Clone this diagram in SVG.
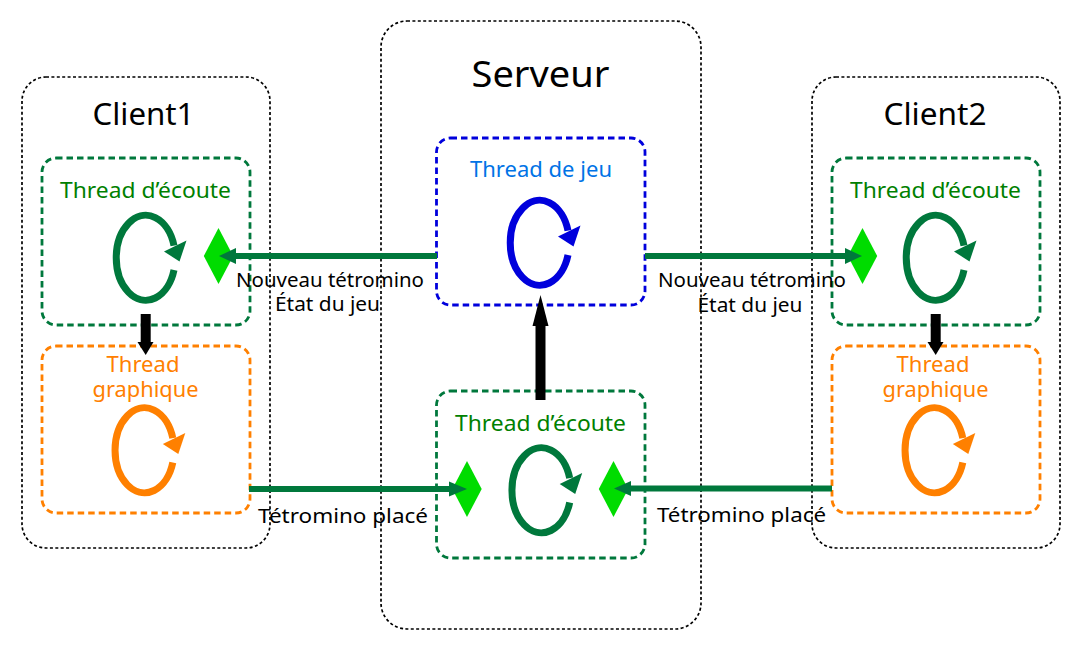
<svg xmlns="http://www.w3.org/2000/svg" width="1083" height="657" viewBox="0 0 1083 657">
<style>
text{font-family:"Noto Sans","Open Sans","DejaVu Sans",sans-serif;text-anchor:middle}
.outer{fill:none;stroke:#000;stroke-width:1.7;stroke-dasharray:3 2.4}
.box{fill:none;stroke-width:2.8;stroke-dasharray:6.500 4}
.title{font-size:31px;fill:#000}
.th{font-size:21px}
.lb{font-size:20px;fill:#000}
.g{stroke:#00783c;fill:#00783c}
.gt{fill:#008000}
.o{stroke:#ff8000;fill:#ff8000}
.ot{fill:#ff8000}
.b{stroke:#0000dc;fill:#0000dc}
.bt{fill:#0073e6}
.d{fill:#00dc00}
.conn{stroke:#00783c;stroke-width:6;fill:none}
.head{fill:#00783c}
</style>
<defs>
<g id="cycle">
<path d="M28 11 A29.5 42.5 0 1 1 28 -13.4" fill="none" stroke-width="7"/>
<path d="M40.500 -18.500 L18 -7.500 L33.500 2.500 Z" stroke="none"/>
</g>
<polygon id="dia" points="-14.7,0 0,-28 14.7,0 0,28"/>
</defs>

<g id="client1">
<rect class="outer" x="22" y="77" width="248" height="471" rx="24"/>
<text class="title" x="143.500" y="125" textLength="102" lengthAdjust="spacingAndGlyphs">Client1</text>
</g>
<g id="serveur">
<rect class="outer" x="381" y="21" width="320" height="608" rx="26"/>
<text class="title" x="540.500" y="87" style="font-size:37px" textLength="138" lengthAdjust="spacingAndGlyphs">Serveur</text>
</g>
<g id="client2">
<rect class="outer" x="812" y="77" width="248" height="471" rx="24"/>
<text class="title" x="935" y="125" textLength="103" lengthAdjust="spacingAndGlyphs">Client2</text>
</g>

<g id="c1-ecoute">
<rect class="box" x="42" y="158" width="208" height="167" rx="14" stroke="#00783c"/>
<text class="th gt" x="145.500" y="198" textLength="171" lengthAdjust="spacingAndGlyphs">Thread d’écoute</text>
<use href="#cycle" x="146" y="259" class="g"/>
<use href="#dia" x="218.500" y="256" class="d"/>
</g>
<g id="c1-graphique">
<rect class="box" x="42" y="346" width="208" height="167" rx="14" stroke="#ff8000"/>
<text class="th ot" x="143" y="372" textLength="73" lengthAdjust="spacingAndGlyphs">Thread</text>
<text class="th ot" x="145.500" y="397" textLength="106" lengthAdjust="spacingAndGlyphs">graphique</text>
<use href="#cycle" x="144.800" y="451.500" class="o"/>
</g>
<g id="jeu">
<rect class="box" x="436.500" y="138" width="208.500" height="167" rx="14" stroke="#0000dc"/>
<text class="th bt" x="541" y="177" textLength="142" lengthAdjust="spacingAndGlyphs">Thread de jeu</text>
<use href="#cycle" x="540" y="244" class="b"/>
</g>
<g id="s-ecoute">
<rect class="box" x="436.500" y="391" width="208.500" height="167" rx="14" stroke="#00783c"/>
<text class="th gt" x="540.500" y="431" textLength="171" lengthAdjust="spacingAndGlyphs">Thread d’écoute</text>
<use href="#cycle" x="541.700" y="491.500" class="g"/>
<use href="#dia" x="467" y="489" class="d"/>
<use href="#dia" x="613.500" y="489" class="d"/>
</g>
<g id="c2-ecoute">
<rect class="box" x="832" y="158" width="208" height="167" rx="14" stroke="#00783c"/>
<text class="th gt" x="935.500" y="198" textLength="171" lengthAdjust="spacingAndGlyphs">Thread d’écoute</text>
<use href="#cycle" x="936" y="259" class="g"/>
<use href="#dia" x="862.500" y="256" class="d"/>
</g>
<g id="c2-graphique">
<rect class="box" x="832" y="346" width="208" height="167" rx="14" stroke="#ff8000"/>
<text class="th ot" x="933" y="372" textLength="73" lengthAdjust="spacingAndGlyphs">Thread</text>
<text class="th ot" x="935.500" y="397" textLength="106" lengthAdjust="spacingAndGlyphs">graphique</text>
<use href="#cycle" x="934.800" y="451.500" class="o"/>
</g>

<g id="connectors">
<path class="conn" d="M437 256H232"/>
<polygon class="head" points="219,256 236,248 236,264"/>
<path class="conn" d="M645 256H850"/>
<polygon class="head" points="862,256 845,248 845,264"/>
<path class="conn" d="M249 489H455"/>
<polygon class="head" points="467,489 449,481.500 449,496.500"/>
<path class="conn" d="M832 488.500H626"/>
<polygon class="head" points="614,488.500 631,481 631,496"/>
<path d="M145.700 314V343" stroke="#000" stroke-width="10" fill="none"/>
<polygon points="145.700,355 137.500,342 153.500,342" fill="#000"/>
<path d="M935.700 314V343" stroke="#000" stroke-width="10" fill="none"/>
<polygon points="935.700,355 927.500,342 943.500,342" fill="#000"/>
<path d="M540.500 400V322" stroke="#000" stroke-width="10" fill="none"/>
<polygon points="540.500,295 532.500,326 548.500,326" fill="#000"/>
</g>

<g id="labels">
<text class="lb" x="330" y="287" textLength="188" lengthAdjust="spacingAndGlyphs">Nouveau tétromino</text>
<text class="lb" x="327.500" y="311" textLength="105" lengthAdjust="spacingAndGlyphs">État du jeu</text>
<text class="lb" x="752" y="287" textLength="188" lengthAdjust="spacingAndGlyphs">Nouveau tétromino</text>
<text class="lb" x="750" y="312" textLength="105" lengthAdjust="spacingAndGlyphs">État du jeu</text>
<text class="lb" x="343" y="523" textLength="170" lengthAdjust="spacingAndGlyphs">Tétromino placé</text>
<text class="lb" x="741.500" y="522" textLength="169" lengthAdjust="spacingAndGlyphs">Tétromino placé</text>
</g>
</svg>
